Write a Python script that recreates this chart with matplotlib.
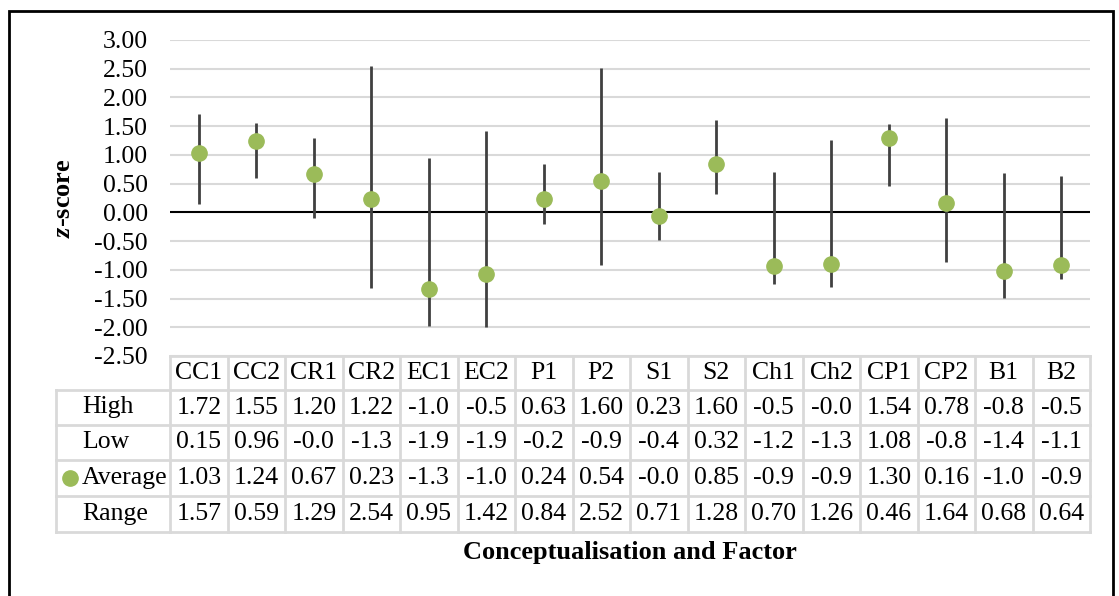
import matplotlib
matplotlib.use("Agg")
import matplotlib.pyplot as plt
import matplotlib.transforms as mtransforms
from matplotlib.lines import Line2D

plt.rcParams['font.family'] = ['Liberation Serif', 'DejaVu Serif']
plt.rcParams['mathtext.fontset'] = 'custom'
plt.rcParams['mathtext.rm'] = 'Liberation Serif'
plt.rcParams['mathtext.it'] = 'Liberation Serif:italic'
plt.rcParams['mathtext.bf'] = 'Liberation Serif:bold'
plt.rcParams['mathtext.bfit'] = 'Liberation Serif:italic:bold'

categories = ["CC1", "CC2", "CR1", "CR2", "EC1", "EC2", "P1", "P2",
              "S1", "S2", "Ch1", "Ch2", "CP1", "CP2", "B1", "B2"]
high = [1.72, 1.55, 1.20, 1.22, -1.02, -0.57, 0.63, 1.60,
        0.23, 1.60, -0.54, -0.04, 1.54, 0.78, -0.81, -0.52]
low = [0.15, 0.96, -0.09, -1.32, -1.97, -1.99, -0.21, -0.92,
       -0.48, 0.32, -1.24, -1.30, 1.08, -0.86, -1.49, -1.16]
average = [1.03, 1.24, 0.67, 0.23, -1.34, -1.08, 0.24, 0.54,
           -0.07, 0.85, -0.94, -0.90, 1.30, 0.16, -1.02, -0.91]
value_range = [1.57, 0.59, 1.29, 2.54, 0.95, 1.42, 0.84, 2.52,
               0.71, 1.28, 0.70, 1.26, 0.46, 1.64, 0.68, 0.64]
yticks = [3.0, 2.5, 2.0, 1.5, 1.0, 0.5, 0.0, -0.5, -1.0, -1.5, -2.0, -2.5]

W, H = 1119, 596
fig = plt.figure(figsize=(W / 100, H / 100), dpi=100)

def fx(px):
    return px / W

def fy(py):
    return 1 - py / H

ax_left, ax_right, ax_top, ax_bottom = 170, 1090, 40, 356
ax = fig.add_axes([fx(ax_left), fy(ax_bottom), fx(ax_right - ax_left), (ax_bottom - ax_top) / H])
n = len(categories)
x = list(range(n))
ax.set_xlim(-0.5, n - 0.5)
ax.set_ylim(-2.5, 3.0)

GRID = '#d9d9d9'
for t in yticks:
    if t != 0:
        ax.axhline(t, color=GRID, lw=1.5, zorder=0)
ax.axhline(0, color='black', lw=1.5, zorder=1)

# high-low lines span all series values
for i in x:
    vals = [high[i], low[i], average[i], value_range[i]]
    ax.plot([i, i], [min(vals), max(vals)], color='#404040', lw=2, zorder=2, solid_capstyle='butt')
ax.plot(x, average, linestyle='none', marker='o', markersize=11,
        color='#9bbb59', markeredgecolor='#9bbb59', zorder=3)

FS = 18.5
ax.set_yticks(yticks)
ax.set_yticklabels([f"{t:.2f}" for t in yticks], fontsize=FS)
ax.tick_params(axis='y', length=0, pad=16)
ax.set_xticks([])
for s in ax.spines.values():
    s.set_visible(False)

fig.text(fx(64), fy(198), r"$\mathbfit{z}$-score", rotation=90, ha='center', va='center',
         fontsize=19, fontweight='bold')

# data table
trans = mtransforms.blended_transform_factory(ax.transData, fig.transFigure)
row_edges = [356, 390, 425, 460, 496, 532]
table_left = 56

def add_line(xs, ys, tr):
    fig.add_artist(Line2D(xs, ys, transform=tr, color=GRID, lw=2, clip_on=False))

add_line([fx(ax_left), fx(ax_right)], [fy(356), fy(356)], fig.transFigure)
for ry in row_edges[1:]:
    add_line([fx(table_left), fx(ax_right)], [fy(ry), fy(ry)], fig.transFigure)
for k in range(n + 1):
    add_line([k - 0.5, k - 0.5], [fy(356), fy(532)], trans)
add_line([fx(table_left), fx(table_left)], [fy(390), fy(532)], fig.transFigure)

def cell_y(r):
    return fy((row_edges[r] + row_edges[r + 1]) / 2)

for i, c in enumerate(categories):
    fig.text(i, cell_y(0), c, transform=trans, ha='center', va='center', fontsize=FS)

rows = [("High", high), ("Low", low), ("Average", average), ("Range", value_range)]
for r, (name, vals) in enumerate(rows, start=1):
    fig.text(fx(82), cell_y(r), name, ha='left', va='center', fontsize=FS)
    for i, v in enumerate(vals):
        s = f"{v:.2f}"[:4]
        fig.text(i, cell_y(r), s, transform=trans, ha='center', va='center', fontsize=FS)
fig.add_artist(Line2D([fx(70)], [cell_y(3)], transform=fig.transFigure, marker='o',
                      markersize=11, color='#9bbb59', linestyle='none'))

fig.text(fx(630), fy(553), "Conceptualisation and Factor", ha='center', va='center',
         fontsize=19, fontweight='bold')

fig.add_artist(plt.Rectangle((fx(9), fy(620)), fx(1113 - 9), (620 - 11) / H,
                             transform=fig.transFigure, fill=False, edgecolor='black',
                             lw=2, clip_on=False))

fig.savefig("out.png", dpi=100)
